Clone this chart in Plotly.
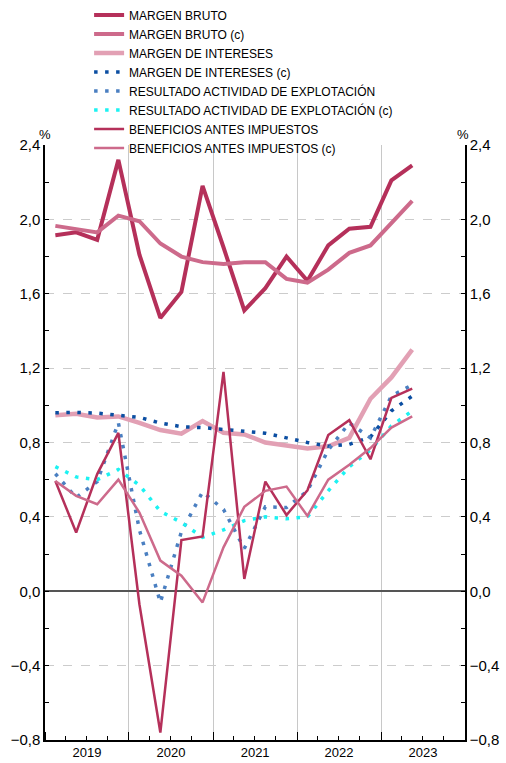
import pandas as pd
import plotly.graph_objects as go

quarters = ["2019Q1", "2019Q2", "2019Q3", "2019Q4", "2020Q1", "2020Q2", "2020Q3", "2020Q4",
            "2021Q1", "2021Q2", "2021Q3", "2021Q4", "2022Q1", "2022Q2", "2022Q3", "2022Q4",
            "2023Q1", "2023Q2"]

margen_bruto = [1.915, 1.93, 1.89, 2.32, 1.81, 1.47, 1.61, 2.18, 1.85, 1.51, 1.63, 1.80, 1.67, 1.86, 1.95, 1.96, 2.21, 2.29]
margen_bruto_c = [1.965, 1.95, 1.93, 2.02, 1.99, 1.87, 1.80, 1.77, 1.76, 1.77, 1.77, 1.68, 1.66, 1.73, 1.82, 1.86, 1.98, 2.10]
margen_intereses = [0.947, 0.955, 0.935, 0.94, 0.906, 0.867, 0.847, 0.915, 0.852, 0.843, 0.80, 0.786, 0.768, 0.78, 0.825, 1.035, 1.15, 1.30]
margen_intereses_c = [0.96, 0.962, 0.958, 0.948, 0.935, 0.905, 0.885, 0.88, 0.87, 0.862, 0.85, 0.825, 0.80, 0.78, 0.79, 0.83, 0.97, 1.05]
resultado = [0.632, 0.504, 0.59, 0.906, 0.33, -0.06, 0.32, 0.534, 0.44, 0.23, 0.454, 0.45, 0.54, 0.76, 0.905, 0.825, 1.05, 1.11]
resultado_c = [0.67, 0.615, 0.60, 0.655, 0.57, 0.43, 0.37, 0.29, 0.33, 0.38, 0.40, 0.39, 0.40, 0.54, 0.67, 0.76, 0.89, 0.97]
beneficios = [0.593, 0.316, 0.63, 0.852, -0.07, -0.76, 0.275, 0.295, 1.18, 0.066, 0.59, 0.41, 0.543, 0.84, 0.92, 0.71, 1.04, 1.09]
beneficios_c = [0.593, 0.513, 0.468, 0.60, 0.423, 0.165, 0.084, -0.06, 0.236, 0.454, 0.54, 0.563, 0.405, 0.60, 0.68, 0.77, 0.88, 0.94]

names = ["MARGEN BRUTO", "MARGEN BRUTO (c)", "MARGEN DE INTERESES", "MARGEN DE INTERESES (c)",
         "RESULTADO ACTIVIDAD DE EXPLOTACIÓN", "RESULTADO ACTIVIDAD DE EXPLOTACIÓN (c)",
         "BENEFICIOS ANTES IMPUESTOS", "BENEFICIOS ANTES IMPUESTOS (c)"]

# quarter mid-points as x positions
x = []
for q in quarters:
    p = pd.Period(q, freq="Q")
    s, e = p.start_time, p.end_time
    x.append(s + (e - s) / 2)

series = [margen_bruto, margen_bruto_c, margen_intereses, margen_intereses_c,
          resultado, resultado_c, beneficios, beneficios_c]
styles = [
    dict(color="#B5305A", width=4, dash="solid"),
    dict(color="#CD6A8B", width=4, dash="solid"),
    dict(color="#E2A0B4", width=4.5, dash="solid"),
    dict(color="#0B4EA2", width=3.5, dash="3.5px,7.5px"),
    dict(color="#4A7FC1", width=3.5, dash="3.5px,7.5px"),
    dict(color="#1CF2F2", width=3.5, dash="3.5px,7.5px"),
    dict(color="#B5305A", width=2.5, dash="solid"),
    dict(color="#CD6A8B", width=2.5, dash="solid"),
]

fig = go.Figure()
for name, vals, st in zip(names, series, styles):
    fig.add_trace(go.Scatter(x=x, y=vals, mode="lines", name=name, line=st))

# empty trace so the right-hand axis is rendered
fig.add_trace(go.Scatter(x=[], y=[], yaxis="y2", showlegend=False, hoverinfo="skip"))

font_family = "Liberation Sans, Arial, sans-serif"

fig.update_layout(
    width=506, height=763,
    margin=dict(l=45, r=41, t=145, b=23, autoexpand=False),
    paper_bgcolor="white", plot_bgcolor="white",
    separators=",.",
    font=dict(family=font_family, size=14, color="black"),
    showlegend=True,
    legend=dict(
        x=0.105, xanchor="left", y=1.243, yanchor="top",
        font=dict(size=12, family=font_family),
        bgcolor="rgba(0,0,0,0)", traceorder="normal",
    ),
    xaxis=dict(
        type="date", range=["2019-01-01", "2024-01-01"],
        tick0="2019-01-01", dtick="M12", ticklabelmode="period", tickformat="%Y",
        ticks="inside", ticklen=8, tickcolor="black", tickwidth=1,
        showgrid=True, gridcolor="#c8c8c8", gridwidth=1,
        showline=True, linecolor="black", linewidth=1.5,
        minor=dict(dtick="M3", ticks="inside", ticklen=4, tickcolor="black", showgrid=False),
        tickfont=dict(size=13), zeroline=False,
    ),
    yaxis=dict(
        range=[-0.8, 2.4], dtick=0.4, tick0=0, tickformat=".1f",
        ticks="inside", ticklen=4, tickcolor="black",
        showgrid=True, gridcolor="#cccccc", griddash="dash", gridwidth=1,
        showline=True, linecolor="black", linewidth=1.5,
        zeroline=True, zerolinecolor="#555555", zerolinewidth=1.5,
        minor=dict(dtick=0.2, ticks="inside", ticklen=4, tickcolor="black", showgrid=False),
        tickfont=dict(size=15),
    ),
    yaxis2=dict(
        overlaying="y", side="right", anchor="x",
        range=[-0.8, 2.4], dtick=0.4, tick0=0, tickformat=".1f",
        ticks="inside", ticklen=4, tickcolor="black",
        showgrid=False, zeroline=False,
        showline=True, linecolor="black", linewidth=1.5,
        minor=dict(dtick=0.2, ticks="inside", ticklen=4, tickcolor="black"),
        tickfont=dict(size=15),
    ),
    annotations=[
        dict(text="%", xref="paper", yref="paper", x=0, y=1, xanchor="center", yanchor="bottom",
             yshift=1, showarrow=False, font=dict(size=13)),
        dict(text="%", xref="paper", yref="paper", x=1, y=1, xanchor="center", yanchor="bottom",
             yshift=1, xshift=-2, showarrow=False, font=dict(size=13)),
    ],
)

fig.write_html(
    "out.html",
    config={"displayModeBar": False},
    post_script="document.body.style.margin='0';document.body.style.padding='0';document.body.style.overflow='hidden';",
)
